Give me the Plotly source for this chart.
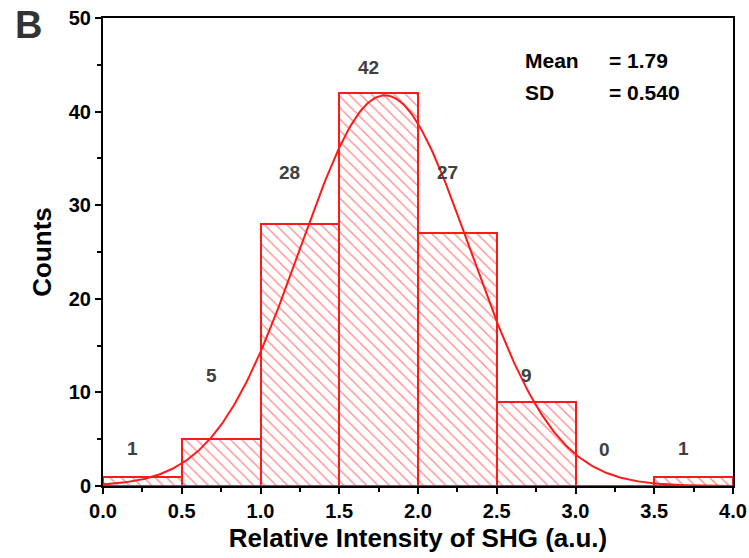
import numpy as np
import plotly.graph_objects as go

bin_left = [0.0, 0.5, 1.0, 1.5, 2.0, 2.5, 3.0, 3.5]
counts = [1, 5, 28, 42, 27, 9, 0, 1]
label_y = [4.06, 11.8, 33.5, 44.7, 33.5, 11.8, 3.95, 4.06]
bin_width = 0.5
mean = 1.79
sd = 0.540
x_ticks = [0.0, 0.5, 1.0, 1.5, 2.0, 2.5, 3.0, 3.5, 4.0]
y_ticks = [0, 10, 20, 30, 40, 50]

centers = [b + bin_width / 2 for b in bin_left]
total = sum(counts)
FONT = "Liberation Sans, Arial"

fig = go.Figure()
fig.add_trace(go.Bar(
    x=centers, y=counts, width=bin_width,
    marker=dict(color="white", line=dict(color="#ff1a1a", width=2),
                pattern=dict(shape="\\", fgcolor="#ff1a1a", bgcolor="white",
                             size=8, solidity=0.17)),
    showlegend=False, hoverinfo="skip"))

xs = np.linspace(0.0, 4.0, 400)
ys = total * bin_width / (sd * np.sqrt(2 * np.pi)) * np.exp(-0.5 * ((xs - mean) / sd) ** 2)
fig.add_trace(go.Scatter(x=xs, y=ys, mode="lines",
                         line=dict(color="#ff1a1a", width=2),
                         showlegend=False, hoverinfo="skip"))

for c, n, ly in zip(centers, counts, label_y):
    fig.add_annotation(x=c, y=ly, text=str(n), showarrow=False,
                       xshift=-10, xanchor="center", yanchor="middle",
                       font=dict(family=FONT, size=19, color="#404040", weight="bold"))

stat_font = dict(family=FONT, size=21, color="black", weight="bold")
for xx, yy, txt in [(0.667, 0.910, "Mean"), (0.667, 0.840, "SD"),
                    (0.800, 0.910, "= %.2f" % mean), (0.800, 0.840, "= %.3f" % sd)]:
    fig.add_annotation(xref="paper", yref="paper", x=xx, y=yy, xanchor="left", yanchor="middle",
                       text=txt, showarrow=False, font=stat_font)

fig.add_annotation(xref="paper", yref="paper", x=-0.119, y=0.985, xanchor="center", yanchor="middle",
                   text="B", showarrow=False,
                   font=dict(family=FONT, size=38, color="#333333", weight="bold"))

axis_font = dict(family=FONT, size=20, color="black", weight="bold")
title_font = dict(family=FONT, size=26, color="black", weight="bold")

fig.update_layout(
    width=749, height=558,
    margin=dict(l=103, r=16, t=18, b=72),
    paper_bgcolor="white", plot_bgcolor="white",
    bargap=0,
    xaxis=dict(range=[0, 4.0], tickvals=x_ticks, ticktext=["%.1f" % v for v in x_ticks],
               automargin=False,
               showline=True, linecolor="black", linewidth=2, mirror=True,
               ticks="outside", ticklen=6, tickwidth=2, tickcolor="black",
               minor=dict(dtick=0.25, ticks="outside", ticklen=4, tickwidth=2, tickcolor="black"),
               showgrid=False, zeroline=False, tickfont=axis_font,
               title=dict(text="Relative Intensity of SHG (a.u.)", font=title_font, standoff=8)),
    yaxis=dict(range=[0, 50], tickvals=y_ticks,
               automargin=False,
               showline=True, linecolor="black", linewidth=2, mirror=True,
               ticks="outside", ticklen=6, tickwidth=2, tickcolor="black",
               minor=dict(dtick=5, ticks="outside", ticklen=4, tickwidth=2, tickcolor="black"),
               showgrid=False, zeroline=False, tickfont=axis_font,
               title=dict(text="Counts", font=title_font, standoff=10)),
)

fig.write_html("out.html",
               config={"displayModeBar": False},
               post_script="document.documentElement.style.margin='0';"
                           "document.body.style.margin='0';"
                           "document.documentElement.style.overflow='hidden';"
                           "document.body.style.overflow='hidden';")
